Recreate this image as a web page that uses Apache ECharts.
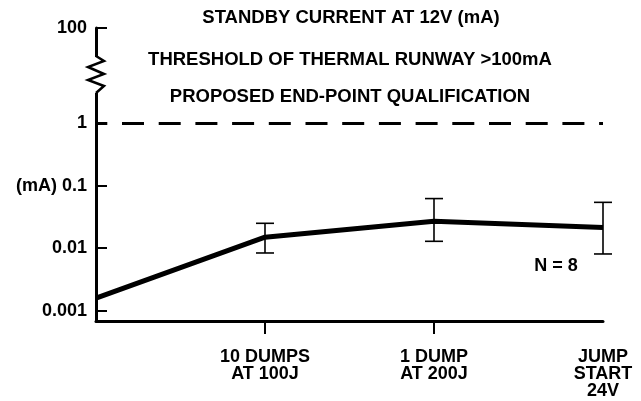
<!DOCTYPE html>
<html>
<head>
<meta charset="utf-8">
<script src="https://cdn.jsdelivr.net/npm/echarts@6/dist/echarts.min.js"></script>
<style>html,body{margin:0;padding:0;background:#fff}#c{width:641px;height:401px}</style>
</head>
<body>
<div id="c"></div>
<script>
// ---- data ----
var categories = ['', '10 DUMPS\nAT 100J', '1 DUMP\nAT 200J', 'JUMP\nSTART\n24V'];
var currentMA = [0.0016, 0.015, 0.027, 0.0215];
var errLow = [null, 0.0084, 0.0129, 0.0081];
var errHigh = [null, 0.025, 0.062, 0.054];
var thresholdMA = 1;
var yTickValues = [0.001, 0.01, 0.1, 1, 32.7];
var yTickLabels = ['0.001', '0.01', '(mA) 0.1', '1', '100'];
var yMin = 0.00069, yMax = 32.7;
var titleLines = ['STANDBY CURRENT AT 12V (mA)', 'THRESHOLD OF THERMAL RUNWAY >100mA', 'PROPOSED END-POINT QUALIFICATION'];
var noteText = 'N = 8';

var FONT = '"Liberation Sans", Arial, Helvetica, sans-serif';
var chart = echarts.init(document.getElementById('c'), null, {renderer: 'canvas'});

function yLabel(v) {
  var lv = Math.log10(v);
  for (var i = 0; i < yTickValues.length; i++) {
    if (Math.abs(Math.log10(yTickValues[i]) - lv) < 0.02) return yTickLabels[i];
  }
  return '';
}

var errData = [];
for (var i = 0; i < categories.length; i++) {
  if (errLow[i] != null) errData.push([i, errLow[i], errHigh[i]]);
}

var option = {
  animation: false,
  backgroundColor: '#fff',
  grid: {left: 96, right: 38, top: 28, bottom: 80, containLabel: false},
  xAxis: {
    type: 'category',
    data: categories,
    boundaryGap: false,
    axisLine: {show: true, lineStyle: {color: '#000', width: 3}},
    axisTick: {show: true, length: 13, inside: false, lineStyle: {color: '#000', width: 2},
      interval: function (idx) { return idx === 1 || idx === 2; }},
    axisLabel: {show: true, interval: 0, color: '#000', fontFamily: FONT, fontWeight: 'bold',
      fontSize: 18, lineHeight: 17, margin: 28, align: 'center', verticalAlign: 'top'},
    splitLine: {show: false}
  },
  yAxis: {
    type: 'log',
    logBase: 10,
    min: yMin,
    max: yMax,
    axisLine: {show: true, lineStyle: {color: '#000', width: 3}},
    axisTick: {show: true, inside: true, length: 11, customValues: yTickValues,
      lineStyle: {color: '#000', width: 2}},
    axisLabel: {show: true, customValues: yTickValues, formatter: yLabel, color: '#000',
      fontFamily: FONT, fontWeight: 'bold', fontSize: 18, margin: 9},
    splitLine: {show: false}
  },
  series: [
    {
      type: 'line',
      data: currentMA,
      symbol: 'none',
      lineStyle: {color: '#000', width: 5},
      z: 3,
      markLine: {
        silent: true,
        symbol: ['none', 'none'],
        label: {show: false},
        lineStyle: {color: '#000', width: 3, type: [22, 14.7], dashOffset: 10.7},
        data: [{yAxis: thresholdMA}]
      }
    },
    {
      type: 'custom',
      data: errData,
      z: 4,
      renderItem: function (params, api) {
        var x = api.value(0);
        var lo = api.coord([x, api.value(1)]);
        var hi = api.coord([x, api.value(2)]);
        var w = 9;
        var st = {stroke: '#000', lineWidth: 1.6};
        return {
          type: 'group',
          children: [
            {type: 'line', shape: {x1: lo[0], y1: lo[1], x2: hi[0], y2: hi[1]}, style: st},
            {type: 'line', shape: {x1: lo[0] - w, y1: lo[1], x2: lo[0] + w, y2: lo[1]}, style: st},
            {type: 'line', shape: {x1: hi[0] - w, y1: hi[1], x2: hi[0] + w, y2: hi[1]}, style: st}
          ]
        };
      },
      clip: false
    }
  ],
  graphic: [
    {type: 'text', x: 351, y: 18, style: {text: titleLines[0], fill: '#000', font: 'bold 18.5px ' + FONT, textAlign: 'center', textVerticalAlign: 'middle'}},
    {type: 'text', x: 350, y: 60, style: {text: titleLines[1], fill: '#000', font: 'bold 18.5px ' + FONT, textAlign: 'center', textVerticalAlign: 'middle'}},
    {type: 'text', x: 350, y: 97, style: {text: titleLines[2], fill: '#000', font: 'bold 18.5px ' + FONT, textAlign: 'center', textVerticalAlign: 'middle'}},
    {type: 'text', x: 556, y: 266, style: {text: noteText, fill: '#000', font: 'bold 18px ' + FONT, textAlign: 'center', textVerticalAlign: 'middle'}},
    // axis break
    {type: 'rect', shape: {x: 92, y: 57, width: 8, height: 36}, style: {fill: '#fff'}, z: 100},
    {type: 'polyline', shape: {points: [[96, 56], [104, 61], [88, 67], [104, 74], [88, 80], [104, 86], [96, 93]]},
      style: {stroke: '#000', lineWidth: 2.5, fill: null}, z: 101}
  ]
};
chart.setOption(option);
</script>
</body>
</html>
